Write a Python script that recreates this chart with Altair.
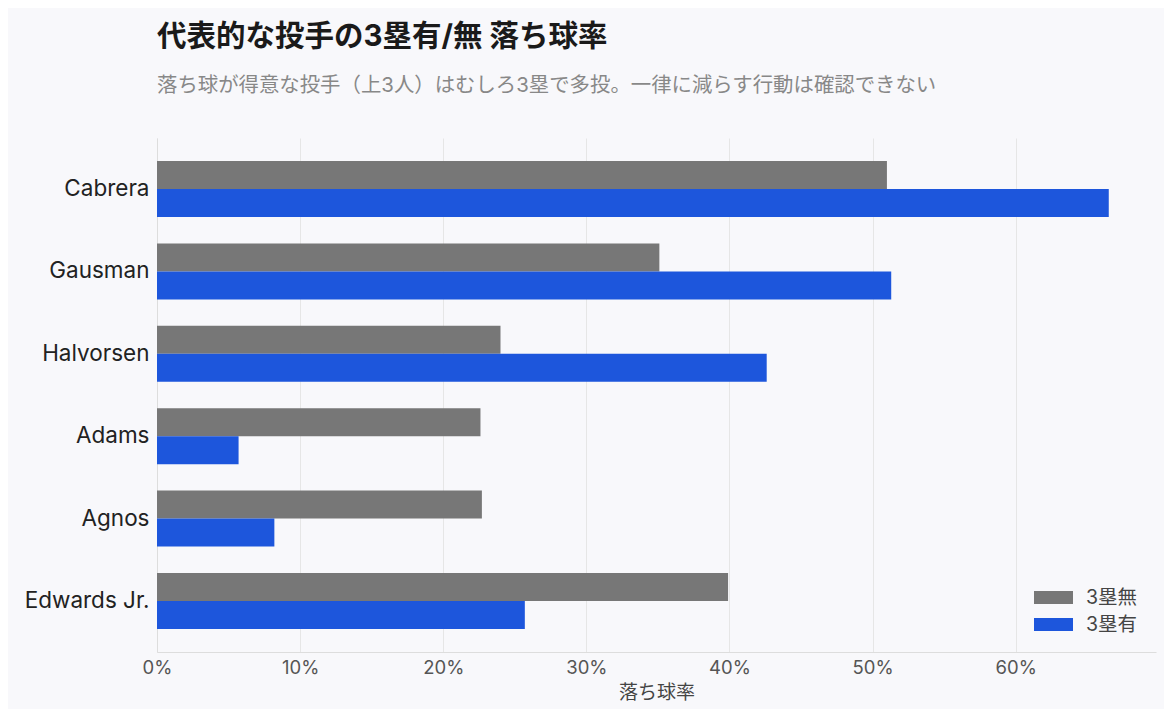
import altair as alt
import pandas as pd

pitchers = ["Cabrera", "Gausman", "Halvorsen", "Adams", "Agnos", "Edwards Jr."]
no_runner3 = [0.510, 0.351, 0.240, 0.226, 0.227, 0.399]
runner3 = [0.665, 0.513, 0.426, 0.057, 0.082, 0.257]
series = ["3塁無", "3塁有"]
colors = ["#777777", "#1d56dc"]

rows = []
for p, a, b in zip(pitchers, no_runner3, runner3):
    rows.append({"投手": p, "状況": series[0], "率": a})
    rows.append({"投手": p, "状況": series[1], "率": b})
df = pd.DataFrame(rows)

FONT = "Inter, Noto Sans CJK JP"

chart = alt.Chart(df).mark_bar().encode(
    y=alt.Y("投手:N", sort=pitchers, title=None,
            scale=alt.Scale(paddingInner=0.32, paddingOuter=0.28),
            axis=alt.Axis(labelFontSize=22.5, labelColor="#222222", labelPadding=8,
                          ticks=False, domainColor="#dddddd", labelFont=FONT,
                          minExtent=144, maxExtent=144)),
    yOffset=alt.YOffset("状況:N", sort=series),
    x=alt.X("率:Q", title="落ち球率",
            scale=alt.Scale(domain=[0, 0.698], nice=False),
            axis=alt.Axis(format=".0%", values=[0, 0.1, 0.2, 0.3, 0.4, 0.5, 0.6],
                          labelFontSize=18.5, labelColor="#555555", ticks=False,
                          labelFlush=False,
                          domainColor="#dddddd", gridColor="#e6e6e6",
                          titleFontSize=19, titleFontWeight="normal", titleColor="#444444",
                          titlePadding=7, labelPadding=6, labelFont=FONT, titleFont=FONT)),
    color=alt.Color("状況:N", scale=alt.Scale(domain=series, range=colors),
                    legend=alt.Legend(title=None, orient="bottom-right", labelFontSize=19.5,
                                      labelColor="#444444",
                                      symbolType="M-1.56,-0.52H1.56V0.52H-1.56Z",
                                      symbolSize=625, symbolStrokeWidth=0,
                                      labelFont=FONT, rowPadding=5, labelOffset=20,
                                      offset=18)),
).properties(
    width=999,
    height=514,
    background="#f8f8fb",
    padding={"left": 5, "top": 14, "right": 8, "bottom": 6},
    title=alt.TitleParams(
        "代表的な投手の3塁有/無 落ち球率",
        subtitle="落ち球が得意な投手（上3人）はむしろ3塁で多投。一律に減らす行動は確認できない",
        anchor="start", frame="group", fontSize=29.5, fontWeight="bold", color="#1a1a1a", font=FONT,
        subtitleFontSize=20.4, subtitleColor="#888888", subtitleFont=FONT,
        subtitlePadding=23, offset=41,
    ),
).configure_view(stroke=None).configure_axisY(grid=False)

chart.save("out.html", embed_options={"renderer": "svg", "actions": False})
